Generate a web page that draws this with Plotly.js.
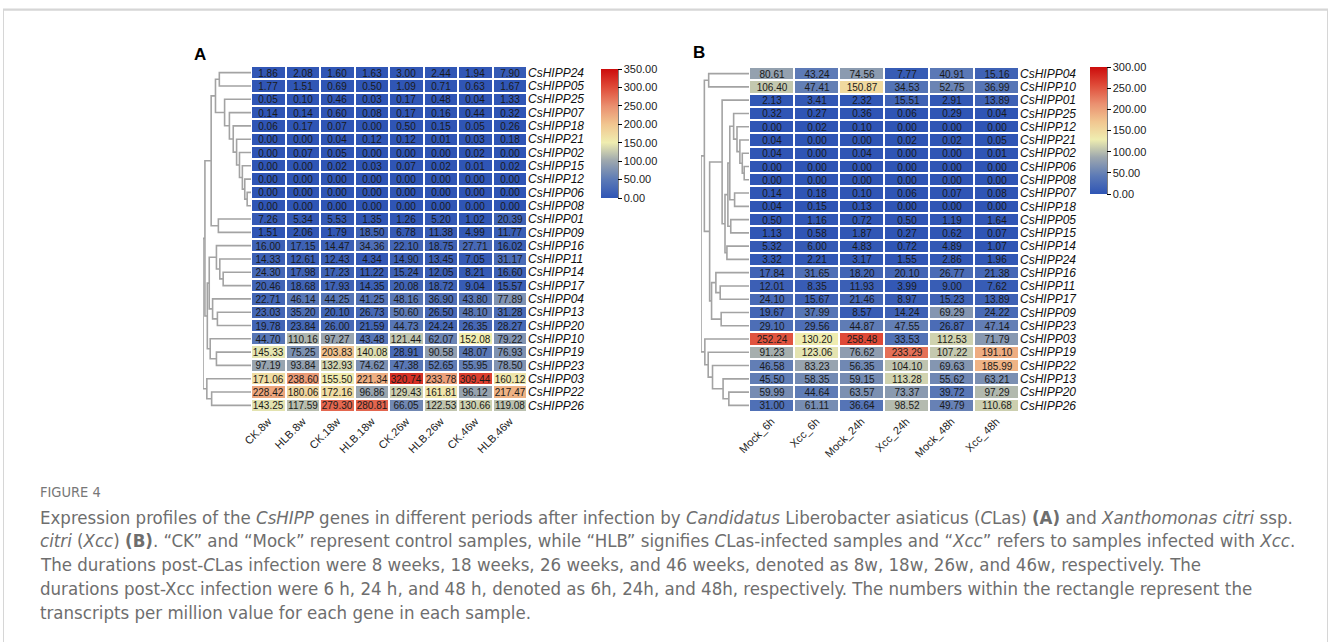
<!DOCTYPE html>
<html>
<head>
<meta charset="utf-8">
<script src="https://cdn.plot.ly/plotly-3.0.1.min.js"></script>
<style>html,body{margin:0;padding:0;background:#fff;}#chart{width:1331px;height:642px;}</style>
</head>
<body>
<div id="chart"></div>
<script>
// ---------- DATA ----------
const colsA = ['CK.8w','HLB.8w','CK.18w','HLB.18w','CK.26w','HLB.26w','CK.46w','HLB.46w'];
const genesA = ['CsHIPP24','CsHIPP05','CsHIPP25','CsHIPP07','CsHIPP18','CsHIPP21','CsHIPP02','CsHIPP15','CsHIPP12','CsHIPP06','CsHIPP08','CsHIPP01','CsHIPP09','CsHIPP16','CsHIPP11','CsHIPP14','CsHIPP17','CsHIPP04','CsHIPP13','CsHIPP20','CsHIPP10','CsHIPP19','CsHIPP23','CsHIPP03','CsHIPP22','CsHIPP26'];
const valuesA = [
  [1.86,2.08,1.60,1.63,3.00,2.44,1.94,7.90],
  [1.77,1.51,0.69,0.50,1.09,0.71,0.63,1.67],
  [0.05,0.10,0.46,0.03,0.17,0.48,0.04,1.33],
  [0.14,0.14,0.60,0.08,0.17,0.16,0.44,0.32],
  [0.06,0.17,0.07,0.00,0.50,0.15,0.05,0.26],
  [0.00,0.00,0.04,0.12,0.12,0.01,0.03,0.18],
  [0.00,0.07,0.05,0.00,0.00,0.00,0.02,0.00],
  [0.00,0.00,0.02,0.03,0.07,0.02,0.01,0.02],
  [0.00,0.00,0.00,0.00,0.00,0.00,0.00,0.00],
  [0.00,0.00,0.00,0.00,0.00,0.00,0.00,0.00],
  [0.00,0.00,0.00,0.00,0.00,0.00,0.00,0.00],
  [7.26,5.34,5.53,1.35,1.26,5.20,1.02,20.39],
  [1.51,2.06,1.79,18.50,6.78,11.38,4.99,11.77],
  [16.00,17.15,14.47,34.36,22.10,18.75,27.71,16.02],
  [14.33,12.61,12.43,4.34,14.90,13.45,7.05,31.17],
  [24.30,17.98,17.23,11.22,15.24,12.05,8.21,16.60],
  [20.46,18.68,17.93,14.35,20.08,18.72,9.04,15.57],
  [22.71,46.14,44.25,41.25,48.16,36.90,43.80,77.89],
  [23.03,35.20,20.10,26.73,50.60,26.50,48.10,31.28],
  [19.78,23.84,26.00,21.59,44.73,24.24,26.35,28.27],
  [44.70,110.16,97.27,43.48,121.44,62.07,152.08,79.22],
  [145.33,75.25,203.83,140.08,28.91,90.58,48.07,76.93],
  [97.19,93.84,132.93,74.62,47.38,52.65,55.95,78.50],
  [171.06,238.60,155.50,221.34,320.74,233.78,309.44,160.12],
  [228.42,180.06,172.16,96.86,129.43,161.81,96.12,217.47],
  [143.25,117.59,279.30,280.81,66.05,122.53,130.66,119.08]
];
const colsB = ['Mock_6h','Xcc_6h','Mock_24h','Xcc_24h','Mock_48h','Xcc_48h'];
const genesB = ['CsHIPP04','CsHIPP10','CsHIPP01','CsHIPP25','CsHIPP12','CsHIPP21','CsHIPP02','CsHIPP06','CsHIPP08','CsHIPP07','CsHIPP18','CsHIPP05','CsHIPP15','CsHIPP14','CsHIPP24','CsHIPP16','CsHIPP11','CsHIPP17','CsHIPP09','CsHIPP23','CsHIPP03','CsHIPP19','CsHIPP22','CsHIPP13','CsHIPP20','CsHIPP26'];
const valuesB = [
  [80.61,43.24,74.56,7.77,40.91,15.16],
  [106.40,47.41,150.87,34.53,52.75,36.99],
  [2.13,3.41,2.32,15.51,2.91,13.89],
  [0.32,0.27,0.36,0.06,0.29,0.04],
  [0.00,0.02,0.10,0.00,0.00,0.00],
  [0.04,0.00,0.00,0.02,0.02,0.05],
  [0.04,0.00,0.04,0.00,0.00,0.01],
  [0.00,0.00,0.00,0.00,0.00,0.00],
  [0.00,0.00,0.00,0.00,0.00,0.00],
  [0.14,0.18,0.10,0.06,0.07,0.08],
  [0.04,0.15,0.13,0.00,0.00,0.00],
  [0.50,1.16,0.72,0.50,1.19,1.64],
  [1.13,0.58,1.87,0.27,0.62,0.07],
  [5.32,6.00,4.83,0.72,4.89,1.07],
  [3.32,2.21,3.17,1.55,2.86,1.96],
  [17.84,31.65,18.20,20.10,26.77,21.38],
  [12.01,8.35,11.93,3.99,9.00,7.62],
  [24.10,15.67,21.46,8.97,15.23,13.89],
  [19.67,37.99,8.57,14.24,69.29,24.22],
  [29.10,29.56,44.87,47.55,26.87,47.14],
  [252.24,130.20,258.48,33.53,112.53,71.79],
  [91.23,123.06,76.62,233.29,107.22,191.10],
  [46.58,83.23,56.35,104.10,69.63,185.99],
  [45.50,58.35,59.15,113.28,55.62,63.21],
  [59.99,44.64,63.57,73.37,39.72,97.29],
  [31.00,61.11,36.64,98.52,49.79,110.68]
];
const ticksA = [0,50,100,150,200,250,300,350];
const ticksB = [0,50,100,150,200,250,300];
// Hierarchical clustering trees: [left, right, merge distance]
const treeA = [[[[['CsHIPP24','CsHIPP05',66],
  ['CsHIPP25',['CsHIPP07',['CsHIPP18',['CsHIPP21',['CsHIPP02',['CsHIPP15',['CsHIPP12',['CsHIPP06','CsHIPP08',8],13],18],24],30],37],45],55],74],
  ['CsHIPP01','CsHIPP09',68],83],
  [[['CsHIPP16',['CsHIPP11',['CsHIPP14','CsHIPP17',58],65],72],['CsHIPP04',['CsHIPP13','CsHIPP20',70],80],87],
   ['CsHIPP10',['CsHIPP19','CsHIPP23',72],85],91],96],
  ['CsHIPP03',['CsHIPP22','CsHIPP26',82],92],100];
const treeB = [[['CsHIPP04','CsHIPP10',84],
  [['CsHIPP01',[[[['CsHIPP25',['CsHIPP12',['CsHIPP21',['CsHIPP02',['CsHIPP06','CsHIPP08',10],14],19],25],32],['CsHIPP07','CsHIPP18',30],40],
     ['CsHIPP05','CsHIPP15',38],44],['CsHIPP14','CsHIPP24',46],50],56],
   [['CsHIPP16',['CsHIPP11','CsHIPP17',60],69],['CsHIPP09','CsHIPP23',58],78],82],93],
  ['CsHIPP03',['CsHIPP19',['CsHIPP22',['CsHIPP13',['CsHIPP20','CsHIPP26',42],54],76],85],92],100];
const captionLines = [
  'Expression profiles of the <i>CsHIPP</i> genes in different periods after infection by <i>Candidatus</i> Liberobacter asiaticus (<i>C</i>Las) <b>(A)</b> and <i>Xanthomonas citri</i> ssp.',
  '<i>citri</i> (<i>Xcc</i>) <b>(B)</b>. \u201CCK\u201D and \u201CMock\u201D represent control samples, while \u201CHLB\u201D signifies <i>C</i>Las-infected samples and \u201C<i>Xcc</i>\u201D refers to samples infected with <i>Xcc</i>.',
  'The durations post-<i>C</i>Las infection were 8 weeks, 18 weeks, 26 weeks, and 46 weeks, denoted as 8w, 18w, 26w, and 46w, respectively. The',
  'durations post-Xcc infection were 6 h, 24 h, and 48 h, denoted as 6h, 24h, and 48h, respectively. The numbers within the rectangle represent the',
  'transcripts per million value for each gene in each sample.'
];

// ---------- LAYOUT HELPERS ----------
const W = 1331, H = 642;
const fx = p => p / W, fy = p => 1 - p / H;
const FONT = 'Liberation Sans, Arial, sans-serif';
const CAPFONT = 'DejaVu Sans Condensed, Liberation Sans Narrow, Liberation Sans, sans-serif';
const cscale = [
  [0.00,'#2f55b5'],[0.14,'#5b79b6'],[0.29,'#9ea8ae'],[0.43,'#efedb0'],
  [0.57,'#f1c690'],[0.71,'#ea9070'],[0.86,'#df4a38'],[1.00,'#cc0c0c']
];

function dendroTrace(tree, genes, xa, ya) {
  const idx = {}; genes.forEach((g, i) => idx[g] = i);
  const xs = [], ys = [];
  (function walk(n) {
    if (typeof n === 'string') return {y: idx[n], h: 0};
    const a = walk(n[0]), b = walk(n[1]), h = n[2];
    xs.push(a.h, h, h, b.h, null); ys.push(a.y, a.y, b.y, b.y, null);
    return {y: (a.y + b.y) / 2, h: h};
  })(tree);
  return {type: 'scatter', mode: 'lines', x: xs, y: ys, xaxis: xa, yaxis: ya,
    line: {color: '#a3a3a3', width: 1.6}, hoverinfo: 'skip', showlegend: false};
}
const fmt = v => v.toFixed(2);

function heat(z, cols, genes, xa, ya, zmax, ticks, cb) {
  return {type: 'heatmap', z: z, x: cols, y: genes.map((g, i) => i), xaxis: xa, yaxis: ya,
    zmin: 0, zmax: zmax, colorscale: cscale, xgap: 2, ygap: 2,
    texttemplate: '%{z:.2f}', textfont: {family: FONT, size: 10, color: '#1a1a1a'},
    hoverinfo: 'skip',
    colorbar: Object.assign({xref: 'paper', yref: 'paper', xanchor: 'left', yanchor: 'top',
      lenmode: 'pixels', thicknessmode: 'pixels', thickness: 17, xpad: 0, ypad: 0,
      outlinewidth: 0, ticks: 'outside', ticklen: 4, tickwidth: 1, tickcolor: '#000',
      tickvals: ticks, ticktext: ticks.map(fmt), tickfont: {family: FONT, size: 11, color: '#222'}}, cb)};
}

const ytop = 66, ybot = 412;
const data = [
  heat(valuesA, colsA, genesA, 'x', 'y', 350, ticksA, {x: fx(601), y: fy(69), len: 129}),
  heat(valuesB, colsB, genesB, 'x2', 'y2', 300, ticksB, {x: fx(1090), y: fy(67), len: 127}),
  dendroTrace(treeA, genesA, 'x3', 'y'),
  dendroTrace(treeB, genesB, 'x4', 'y2')
];

const xcommon = {showgrid: false, zeroline: false, showline: false, ticks: '', tickangle: -45,
  tickfont: {family: FONT, size: 11, color: '#222'}, fixedrange: true};
const ycommon = {showgrid: false, zeroline: false, showline: false, ticks: '', side: 'right',
  tickfont: {family: FONT, size: 12, color: '#111', style: 'italic'}, fixedrange: true};
const dcommon = {visible: false, range: [100, 0], showgrid: false, zeroline: false, fixedrange: true};

const annotations = [
  {text: '<b>A</b>', x: fx(200), y: fy(55), xref: 'paper', yref: 'paper', showarrow: false,
    font: {family: FONT, size: 17, color: '#000'}, xanchor: 'center', yanchor: 'middle'},
  {text: '<b>B</b>', x: fx(699), y: fy(53), xref: 'paper', yref: 'paper', showarrow: false,
    font: {family: FONT, size: 17, color: '#000'}, xanchor: 'center', yanchor: 'middle'},
  {text: 'FIGURE 4', x: fx(38), y: fy(492), xref: 'paper', yref: 'paper', showarrow: false,
    font: {family: CAPFONT, size: 14.5, color: '#777'}, xanchor: 'left', yanchor: 'middle'}
];
const capY = [517, 540, 564, 588, 612];
captionLines.forEach((t, i) => annotations.push({text: t, x: fx(38), y: fy(capY[i]), xref: 'paper', yref: 'paper',
  showarrow: false, font: {family: CAPFONT, size: 18.5, color: '#6e6e6e'}, xanchor: 'left', yanchor: 'middle'}));

const layout = {
  width: W, height: H, margin: {l: 0, r: 0, t: 0, b: 0},
  paper_bgcolor: '#fff', plot_bgcolor: '#fff', showlegend: false,
  xaxis: Object.assign({}, xcommon, {domain: [fx(251), fx(527)], anchor: 'y'}),
  yaxis: Object.assign({}, ycommon, {domain: [fy(ybot), fy(ytop)], anchor: 'x', range: [25.5, -0.5],
    tickvals: genesA.map((g, i) => i), ticktext: genesA}),
  xaxis2: Object.assign({}, xcommon, {domain: [fx(749), fx(1019)], anchor: 'y2'}),
  yaxis2: Object.assign({}, ycommon, {domain: [fy(ybot), fy(ytop + 1)], anchor: 'x2', range: [25.5, -0.5],
    tickvals: genesB.map((g, i) => i), ticktext: genesB}),
  xaxis3: Object.assign({}, dcommon, {domain: [fx(203), fx(251)], anchor: 'y'}),
  xaxis4: Object.assign({}, dcommon, {domain: [fx(701), fx(749)], anchor: 'y2'}),
  annotations: annotations,
  shapes: [
    {type: 'rect', xref: 'paper', yref: 'paper', x0: fx(3.5), x1: fx(1327.5), y0: fy(700), y1: fy(10),
      line: {color: '#d6d6d6', width: 1}},
    {type: 'line', xref: 'paper', yref: 'paper', x0: fx(3), x1: fx(1328), y0: fy(9.5), y1: fy(9.5),
      line: {color: '#d6d6d6', width: 2}},
    {type: 'line', xref: 'paper', yref: 'paper', x0: fx(618), x1: fx(618), y0: fy(69), y1: fy(198),
      line: {color: '#000', width: 1}},
    {type: 'line', xref: 'paper', yref: 'paper', x0: fx(1107), x1: fx(1107), y0: fy(67), y1: fy(194),
      line: {color: '#000', width: 1}}
  ]
};
Plotly.newPlot('chart', data, layout, {displayModeBar: false, staticPlot: true});
</script>
</body>
</html>
